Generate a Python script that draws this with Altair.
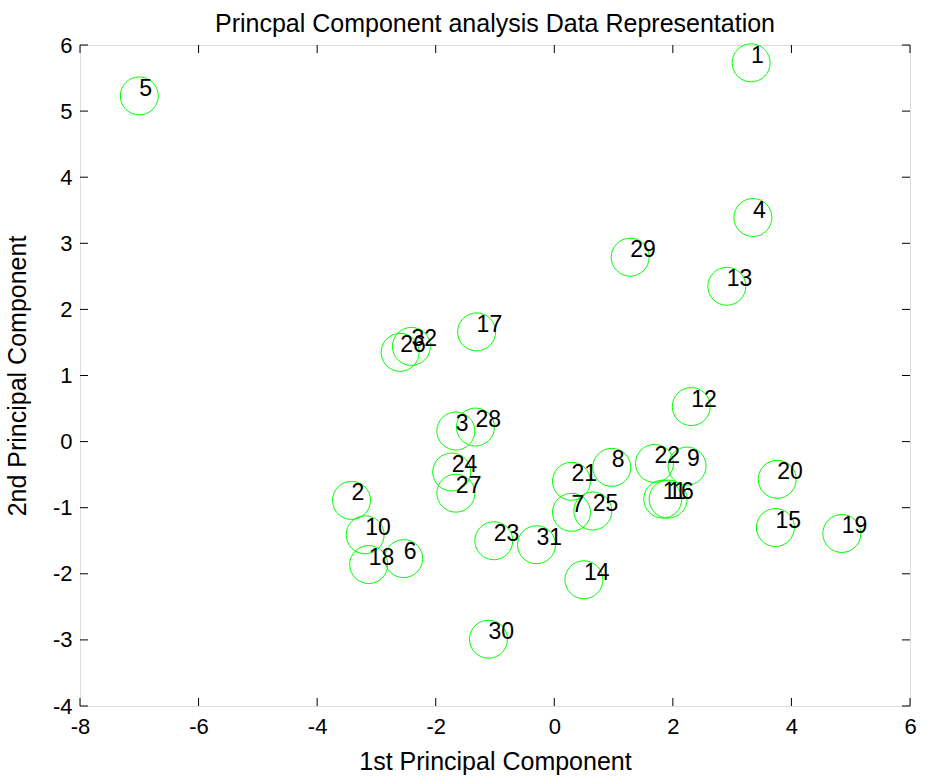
import altair as alt
import pandas as pd

# Scores of the 32 observations on the first two principal components
obs_ids = list(range(1, 33))
pc1 = [3.32, -3.42, -1.66, 3.35, -7.00, -2.54, 0.29, 0.97, 2.24, -3.19,
       1.83, 2.31, 2.91, 0.50, 3.73, 1.92, -1.31, -3.13, 4.85, 3.76,
       0.29, 1.69, -1.02, -1.73, 0.65, -2.60, -1.66, -1.33, 1.28, -1.11,
       -0.30, -2.41]
pc2 = [5.73, -0.89, 0.16, 3.39, 5.23, -1.77, -1.07, -0.39, -0.37, -1.41,
       -0.87, 0.53, 2.35, -2.09, -1.30, -0.87, 1.66, -1.86, -1.39, -0.57,
       -0.60, -0.33, -1.50, -0.46, -1.05, 1.35, -0.78, 0.22, 2.79, -2.99,
       -1.56, 1.44]

x_ticks = [-8, -6, -4, -2, 0, 2, 4, 6]
y_ticks = [-4, -3, -2, -1, 0, 1, 2, 3, 4, 5, 6]

W, H = 830, 661
TICK = 8
FONT = "Liberation Sans"

scores = pd.DataFrame({"id": [str(i) for i in obs_ids], "pc1": pc1, "pc2": pc2})
xt = pd.DataFrame({"v": x_ticks})
yt = pd.DataFrame({"v": y_ticks})

x_scale = alt.Scale(domain=[-8, 6], nice=False, zero=False)
y_scale = alt.Scale(domain=[-4, 6], nice=False, zero=False)

# Plain integer labels with an ASCII hyphen for negatives
plain_label = "'' + datum.value"

x_axis = alt.Axis(values=x_ticks, grid=False, domain=False, ticks=False, tickSize=0,
                  labelExpr=plain_label, labelFlush=False,
                  labelPadding=10, labelFontSize=22, labelFont=FONT, labelColor="black",
                  title="1st Principal Component", titleFontSize=25, titleFont=FONT,
                  titleFontWeight="normal", titleColor="black",
                  titleBaseline="alphabetic", titleY=63)
y_axis = alt.Axis(values=y_ticks, grid=False, domain=False, ticks=False, tickSize=0,
                  labelExpr=plain_label, labelFlush=False,
                  labelPadding=8, labelFontSize=22, labelFont=FONT, labelColor="black",
                  title="2nd Principal Component", titleFontSize=25, titleFont=FONT,
                  titleFontWeight="normal", titleColor="black",
                  titleBaseline="alphabetic", titleX=-55)

circles = alt.Chart(scores).mark_point(
    shape="circle", size=1444, filled=False, stroke="#00FF00", strokeWidth=1, opacity=1
).encode(
    x=alt.X("pc1:Q", scale=x_scale, axis=x_axis),
    y=alt.Y("pc2:Q", scale=y_scale, axis=y_axis),
)

labels = alt.Chart(scores).mark_text(
    align="left", baseline="middle", dx=0, dy=-7, fontSize=23, font=FONT, color="black"
).encode(
    x=alt.X("pc1:Q", scale=x_scale),
    y=alt.Y("pc2:Q", scale=y_scale),
    text="id:N",
)

# Inward tick marks on all four sides of the box
tick_bottom = alt.Chart(xt).mark_rule(color="black", strokeWidth=1).encode(
    x=alt.X("v:Q", scale=x_scale), y=alt.value(H), y2=alt.value(H - TICK))
tick_top = alt.Chart(xt).mark_rule(color="black", strokeWidth=1).encode(
    x=alt.X("v:Q", scale=x_scale), y=alt.value(0), y2=alt.value(TICK))
tick_left = alt.Chart(yt).mark_rule(color="black", strokeWidth=1).encode(
    y=alt.Y("v:Q", scale=y_scale), x=alt.value(0), x2=alt.value(TICK))
tick_right = alt.Chart(yt).mark_rule(color="black", strokeWidth=1).encode(
    y=alt.Y("v:Q", scale=y_scale), x=alt.value(W), x2=alt.value(W - TICK))

chart = alt.layer(
    tick_bottom, tick_top, tick_left, tick_right, circles, labels
).properties(
    width=W, height=H,
    title=alt.TitleParams("Princpal Component analysis Data Representation",
                          fontSize=25, font=FONT, fontWeight="normal", color="black",
                          baseline="bottom", offset=3, dy=31, anchor="middle", frame="group"),
    autosize=alt.AutoSizeParams(type="none"),
    padding={"left": 80, "top": 45, "right": 17, "bottom": 72},
).configure_view(
    stroke="black", strokeWidth=1
).configure(background="white")

chart.save("out.html", embed_options={"renderer": "svg", "actions": False})
